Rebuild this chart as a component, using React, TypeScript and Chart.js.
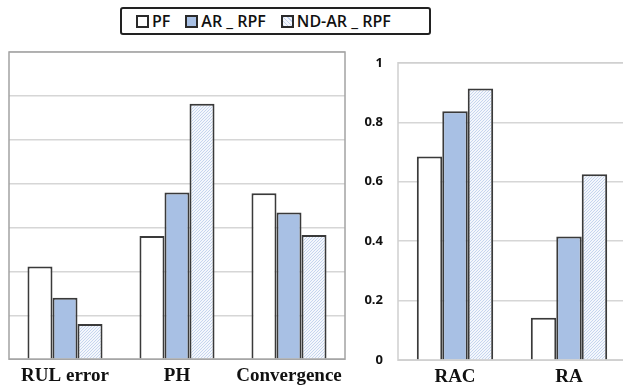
import React, { useEffect, useRef } from "react";
import { Chart, registerables } from "chart.js";

Chart.register(...registerables);

const leftCategories = ["RUL error", "PH", "Convergence"];
const leftPF = [2.11, 2.81, 3.78];
const leftAR = [1.4, 3.8, 3.34];
const leftND = [0.8, 5.82, 2.83];

const rightCategories = ["RAC", "RA"];
const rightPF = [0.685, 0.143];
const rightAR = [0.837, 0.416];
const rightND = [0.914, 0.625];

const seriesNames = ["PF", "AR _ RPF", "ND-AR _ RPF"];

const BLUE = "#a8c0e4";
const EDGE = "#3a3a3a";

function makeHatch(): CanvasPattern | string {
  const c = document.createElement("canvas");
  c.width = 3;
  c.height = 3;
  const ctx = c.getContext("2d");
  if (!ctx) return "#e2eaf6";
  ctx.fillStyle = "#f4f7fc";
  ctx.fillRect(0, 0, 3, 3);
  ctx.fillStyle = "#c6d5ee";
  ctx.fillRect(0, 2, 1, 1);
  ctx.fillRect(1, 1, 1, 1);
  ctx.fillRect(2, 0, 1, 1);
  return ctx.createPattern(c, "repeat") || "#e2eaf6";
}

const frameLeft = {
  id: "frameLeft",
  afterDraw(chart: any) {
    const { ctx, chartArea } = chart;
    ctx.save();
    ctx.strokeStyle = "#a3a3a3";
    ctx.lineWidth = 1.5;
    ctx.strokeRect(chartArea.left, chartArea.top, chartArea.right - chartArea.left, chartArea.bottom - chartArea.top);
    ctx.restore();
  },
};

const frameRight = {
  id: "frameRight",
  afterDraw(chart: any) {
    const { ctx, chartArea } = chart;
    ctx.save();
    ctx.strokeStyle = "#cfcfcf";
    ctx.lineWidth = 1.5;
    ctx.strokeRect(chartArea.left, chartArea.top, chartArea.right - chartArea.left, chartArea.bottom - chartArea.top);
    ctx.restore();
  },
};

function datasets(pf: number[], ar: number[], nd: number[], hatch: any) {
  return [
    { label: seriesNames[0], data: pf, backgroundColor: "#ffffff", borderColor: EDGE, borderWidth: 2 },
    { label: seriesNames[1], data: ar, backgroundColor: BLUE, borderColor: EDGE, borderWidth: 2 },
    { label: seriesNames[2], data: nd, backgroundColor: hatch, borderColor: EDGE, borderWidth: 2 },
  ];
}

const xFont = { family: "'Liberation Serif', 'Times New Roman', serif", size: 19, weight: "bold" as const };

export default function App() {
  const leftRef = useRef<HTMLCanvasElement>(null);
  const rightRef = useRef<HTMLCanvasElement>(null);

  useEffect(() => {
    const hatch = makeHatch();
    const left = new Chart(leftRef.current as HTMLCanvasElement, {
      type: "bar",
      data: { labels: leftCategories, datasets: datasets(leftPF, leftAR, leftND, hatch) as any },
      options: {
        animation: false,
        responsive: false,
        maintainAspectRatio: false,
        layout: { padding: { left: 9, right: 5, top: 12, bottom: 1 } },
        datasets: { bar: { categoryPercentage: 0.67, barPercentage: 1.0 } },
        plugins: { legend: { display: false }, tooltip: { enabled: false } },
        scales: {
          x: {
            grid: { display: false, drawTicks: false },
            border: { display: false },
            ticks: { font: xFont, color: "#111", padding: 5 },
          },
          y: {
            min: 0,
            max: 7,
            ticks: { display: false, stepSize: 1 },
            grid: { color: "#d6d6d6", lineWidth: 1.5, drawTicks: false },
            border: { display: false },
            afterFit: (s: any) => { s.width = 0; },
          },
        },
      },
      plugins: [frameLeft],
    });
    const right = new Chart(rightRef.current as HTMLCanvasElement, {
      type: "bar",
      data: { labels: rightCategories, datasets: datasets(rightPF, rightAR, rightND, hatch) as any },
      options: {
        animation: false,
        responsive: false,
        maintainAspectRatio: false,
        layout: { padding: { left: 0, right: 9, top: 12, bottom: 0 } },
        datasets: { bar: { categoryPercentage: 0.67, barPercentage: 1.0 } },
        plugins: { legend: { display: false }, tooltip: { enabled: false } },
        scales: {
          x: {
            grid: { display: false, drawTicks: false },
            border: { display: false },
            ticks: { font: xFont, color: "#111", padding: 5 },
          },
          y: {
            min: 0,
            max: 1,
            ticks: {
              stepSize: 0.2,
              padding: 15,
              color: "#111",
              font: { family: "'Open Sans', sans-serif", size: 13, weight: "bold" },
              callback: (v: any) => `${+Number(v).toFixed(1)}`,
            },
            grid: { color: "#d6d6d6", lineWidth: 1.5, drawTicks: false },
            border: { display: false },
            afterFit: (s: any) => { s.width = 53; },
          },
        },
      },
      plugins: [frameRight],
    });
    return () => {
      left.destroy();
      right.destroy();
    };
  }, []);

  const swatch = (bg: string, hatched = false): React.CSSProperties => ({
    display: "inline-block",
    width: 9,
    height: 9,
    border: "2px solid #2a2a2a",
    background: hatched
      ? "repeating-linear-gradient(45deg, #c3d3ee 0 1px, #f4f7fc 1px 3px)"
      : bg,
    marginRight: 3,
    boxSizing: "content-box",
  });

  const textStyle: React.CSSProperties = { marginRight: 15 };

  return (
    <div
      style={{
        position: "fixed",
        left: 0,
        top: 0,
        width: 623,
        height: 391,
        overflow: "hidden",
        background: "#fff",
      }}
    >
      <div
        style={{
          position: "absolute",
          left: 120,
          top: 7,
          width: 293,
          height: 24,
          border: "2px solid #222",
          borderRadius: 3,
          display: "flex",
          alignItems: "center",
          paddingLeft: 14,
          boxSizing: "content-box",
          fontFamily: "'Open Sans', sans-serif",
          fontSize: 16,
          fontWeight: 600,
          color: "#111",
          whiteSpace: "nowrap",
        }}
      >
        <span style={swatch("#fff")} />
        <span style={textStyle}>{seriesNames[0]}</span>
        <span style={swatch(BLUE)} />
        <span style={textStyle}>{seriesNames[1]}</span>
        <span style={swatch("#fff", true)} />
        <span>{seriesNames[2]}</span>
      </div>
      <canvas
        ref={leftRef}
        width={350}
        height={353}
        style={{ position: "absolute", left: 0, top: 40, width: 350, height: 353 }}
      />
      <canvas
        ref={rightRef}
        width={290}
        height={353}
        style={{ position: "absolute", left: 345, top: 40, width: 290, height: 353 }}
      />
    </div>
  );
}
